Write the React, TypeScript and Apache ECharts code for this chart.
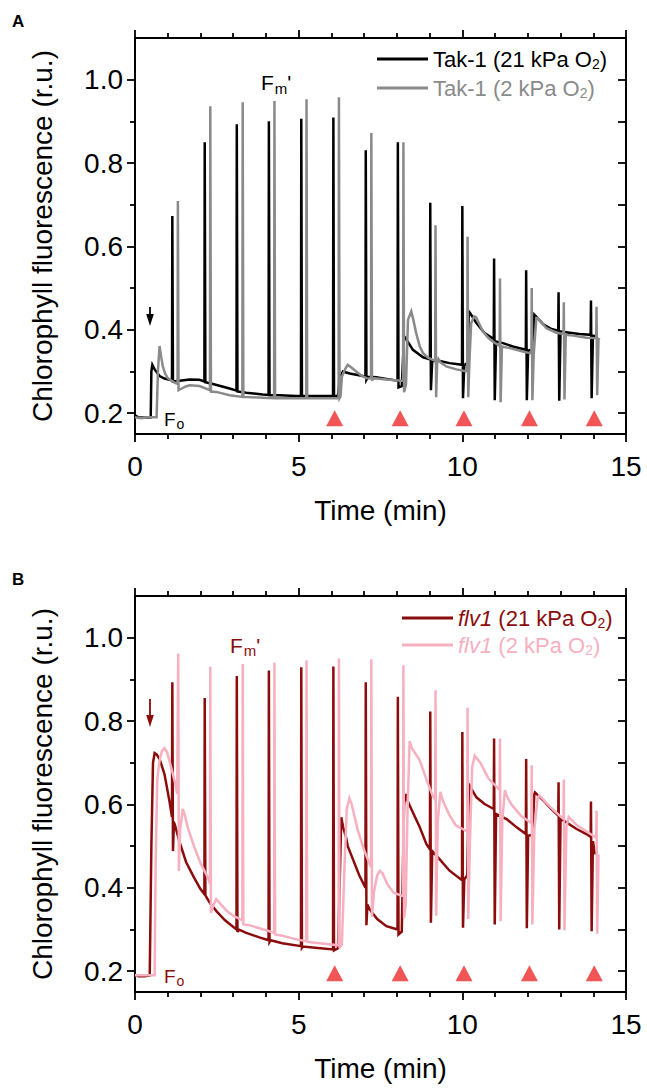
import React, { useEffect, useRef } from 'react';
import * as echarts from 'echarts';

const FONT = '"Liberation Sans", Arial, Helvetica, sans-serif';

// Axis ticks / labels
const xRange = [0, 15];
const xInterval = 5;
const yRange = [0.15, 1.1];
const yLabelValues = [0.2, 0.4, 0.6, 0.8, 1.0];
const yMinorValues = [0.3, 0.5, 0.7, 0.9];
const yAllValues = [0.2, 0.3, 0.4, 0.5, 0.6, 0.7, 0.8, 0.9, 1.0];

// Actinic light step markers (red triangles)
const triangleTimes = [6.1, 8.1, 10.05, 12.05, 14.03];
const triangleLevelA = 0.188;
const triangleLevelB = 0.195;

// Series names
const nameTakAir = 'Tak-1 (21 kPa O2)';
const nameTakLow = 'Tak-1 (2 kPa O2)';
const nameFlvAir = 'flv1 (21 kPa O2)';
const nameFlvLow = 'flv1 (2 kPa O2)';

// Panel A – Tak-1, 21 kPa O2 (time [min], fluorescence [r.u.])
const takAir: number[][] = [
  [0.0, 0.195], [0.1, 0.19], [0.3, 0.189], [0.48, 0.19],
  [0.5, 0.3], [0.53, 0.316], [0.6, 0.305], [0.75, 0.289], [0.9, 0.283], [1.05, 0.28], [1.13, 0.279],
  [1.14, 0.673], [1.16, 0.276],
  [1.36, 0.278], [1.67, 0.281], [1.97, 0.28], [2.12, 0.276],
  [2.13, 0.85], [2.15, 0.274],
  [2.38, 0.27], [2.89, 0.259], [3.1, 0.254],
  [3.11, 0.893], [3.13, 0.252],
  [3.4, 0.249], [3.9, 0.245], [4.08, 0.244],
  [4.09, 0.9], [4.11, 0.243],
  [4.42, 0.243], [4.93, 0.241], [5.07, 0.241],
  [5.08, 0.906], [5.1, 0.241],
  [5.94, 0.241], [6.05, 0.241],
  [6.06, 0.909], [6.08, 0.24],
  [6.2, 0.242], [6.26, 0.285], [6.35, 0.3], [6.56, 0.295], [6.96, 0.289], [7.04, 0.288],
  [7.05, 0.831], [7.07, 0.28], [7.12, 0.287],
  [7.37, 0.286], [7.68, 0.282], [8.02, 0.278],
  [8.03, 0.85], [8.05, 0.262], [8.15, 0.265], [8.22, 0.384], [8.25, 0.382],
  [8.49, 0.352], [8.8, 0.334], [9.01, 0.329],
  [9.02, 0.705], [9.04, 0.255], [9.08, 0.326],
  [9.31, 0.325], [9.61, 0.32], [9.99, 0.316],
  [10.0, 0.697], [10.02, 0.236], [10.06, 0.315], [10.15, 0.32], [10.2, 0.444], [10.24, 0.44],
  [10.43, 0.416], [10.68, 0.392], [10.96, 0.378],
  [10.97, 0.571], [10.99, 0.231], [11.03, 0.372],
  [11.24, 0.368], [11.54, 0.36], [11.94, 0.352],
  [11.95, 0.543], [11.97, 0.231], [12.01, 0.35], [12.15, 0.352], [12.2, 0.436], [12.25, 0.432],
  [12.46, 0.414], [12.72, 0.402], [12.93, 0.398],
  [12.94, 0.49], [12.96, 0.23], [13.0, 0.396],
  [13.28, 0.393], [13.58, 0.39], [13.92, 0.388],
  [13.93, 0.47], [13.95, 0.236], [13.99, 0.386],
  [14.14, 0.384],
];

// Panel A – Tak-1, 2 kPa O2
const takLow: number[][] = [
  [0.0, 0.19], [0.2, 0.188], [0.4, 0.19], [0.66, 0.19],
  [0.7, 0.3], [0.75, 0.361], [0.8, 0.335], [0.85, 0.312], [0.92, 0.295], [1.0, 0.284], [1.21, 0.273], [1.3, 0.27],
  [1.31, 0.709], [1.33, 0.255], [1.4, 0.258],
  [1.55, 0.264], [1.67, 0.267], [1.97, 0.265], [2.29, 0.255],
  [2.3, 0.936], [2.32, 0.252],
  [2.48, 0.251], [2.89, 0.243], [3.28, 0.239],
  [3.29, 0.946], [3.31, 0.239],
  [3.9, 0.237], [4.25, 0.236],
  [4.26, 0.949], [4.28, 0.236],
  [4.93, 0.236], [5.23, 0.236],
  [5.24, 0.953], [5.26, 0.236],
  [6.15, 0.236], [6.22, 0.236],
  [6.23, 0.958], [6.25, 0.236], [6.28, 0.24],
  [6.32, 0.287], [6.42, 0.306], [6.5, 0.316], [6.6, 0.31], [6.76, 0.3], [6.92, 0.29], [7.07, 0.284], [7.21, 0.283],
  [7.22, 0.872], [7.24, 0.278], [7.28, 0.284],
  [7.68, 0.281], [8.13, 0.278], [8.19, 0.277],
  [8.2, 0.85], [8.22, 0.25], [8.28, 0.27],
  [8.34, 0.424], [8.44, 0.444], [8.5, 0.425], [8.59, 0.392], [8.7, 0.36], [8.8, 0.344], [8.95, 0.333], [9.1, 0.328], [9.17, 0.326],
  [9.18, 0.651], [9.2, 0.238], [9.23, 0.32], [9.27, 0.33], [9.33, 0.322],
  [9.51, 0.312], [9.82, 0.305], [10.07, 0.301], [10.15, 0.3],
  [10.16, 0.623], [10.18, 0.238], [10.22, 0.33],
  [10.27, 0.416], [10.36, 0.432], [10.42, 0.43], [10.63, 0.396], [10.8, 0.38], [10.93, 0.372], [11.09, 0.364], [11.14, 0.362],
  [11.15, 0.523], [11.17, 0.226], [11.21, 0.36],
  [11.45, 0.356], [11.85, 0.348], [12.06, 0.344], [12.11, 0.343],
  [12.12, 0.5], [12.14, 0.231], [12.18, 0.34],
  [12.26, 0.428], [12.3, 0.428], [12.57, 0.404], [12.87, 0.393], [13.09, 0.39],
  [13.1, 0.466], [13.12, 0.233], [13.16, 0.388],
  [13.38, 0.386], [13.79, 0.381], [14.04, 0.38], [14.09, 0.379],
  [14.1, 0.455], [14.12, 0.243], [14.16, 0.378],
  [14.2, 0.376],
];

// Panel B – flv1, 21 kPa O2
const flvAir: number[][] = [
  [0.0, 0.192], [0.1, 0.188], [0.3, 0.188], [0.45, 0.19],
  [0.5, 0.5], [0.55, 0.7], [0.6, 0.723], [0.66, 0.72], [0.75, 0.709], [0.9, 0.673], [1.05, 0.609], [1.13, 0.57],
  [1.14, 0.893], [1.16, 0.488], [1.19, 0.556], [1.21, 0.553],
  [1.36, 0.51], [1.56, 0.462], [1.8, 0.425], [2.0, 0.397], [2.12, 0.385],
  [2.13, 0.855], [2.15, 0.382],
  [2.3, 0.362], [2.5, 0.343], [2.75, 0.322], [3.1, 0.3],
  [3.11, 0.908], [3.13, 0.294], [3.16, 0.3],
  [3.4, 0.292], [3.8, 0.281], [4.08, 0.274],
  [4.09, 0.921], [4.11, 0.27], [4.14, 0.274],
  [4.5, 0.267], [5.07, 0.26],
  [5.08, 0.929], [5.1, 0.256], [5.13, 0.259],
  [5.5, 0.256], [6.05, 0.252],
  [6.06, 0.931], [6.08, 0.25],
  [6.2, 0.255], [6.25, 0.4], [6.3, 0.569], [6.36, 0.545], [6.45, 0.52], [6.5, 0.5], [6.65, 0.47], [6.85, 0.43], [7.04, 0.4],
  [7.05, 0.893], [7.07, 0.31], [7.1, 0.36],
  [7.17, 0.348], [7.4, 0.325], [7.68, 0.308], [8.02, 0.3],
  [8.03, 0.858], [8.05, 0.288], [8.15, 0.295],
  [8.22, 0.6], [8.27, 0.625], [8.32, 0.61], [8.44, 0.589], [8.7, 0.545], [8.9, 0.505], [9.01, 0.492],
  [9.02, 0.823], [9.04, 0.316], [9.08, 0.488],
  [9.31, 0.468], [9.61, 0.441], [9.99, 0.418],
  [10.0, 0.774], [10.02, 0.304], [10.06, 0.42], [10.15, 0.43],
  [10.2, 0.64], [10.22, 0.645], [10.43, 0.617], [10.68, 0.601], [10.96, 0.589],
  [10.97, 0.758], [10.99, 0.312], [11.03, 0.577],
  [11.35, 0.565], [11.66, 0.545], [11.94, 0.529],
  [11.95, 0.709], [11.97, 0.303], [12.01, 0.525], [12.14, 0.527],
  [12.2, 0.625], [12.22, 0.629], [12.47, 0.61], [12.72, 0.589], [12.93, 0.573],
  [12.94, 0.653], [12.96, 0.3], [13.0, 0.565],
  [13.18, 0.557], [13.49, 0.541], [13.79, 0.529], [13.92, 0.522],
  [13.93, 0.607], [13.95, 0.296], [13.99, 0.512],
  [14.05, 0.48],
];

// Panel B – flv1, 2 kPa O2
const flvLow: number[][] = [
  [0.0, 0.19], [0.3, 0.19], [0.6, 0.19],
  [0.63, 0.45], [0.68, 0.66], [0.75, 0.705], [0.82, 0.728], [0.9, 0.735], [0.98, 0.725], [1.05, 0.705], [1.21, 0.657], [1.29, 0.625],
  [1.32, 0.962], [1.34, 0.44], [1.38, 0.54], [1.46, 0.589], [1.52, 0.575], [1.61, 0.545], [1.82, 0.496], [2.02, 0.456], [2.23, 0.424], [2.29, 0.41],
  [2.3, 0.93], [2.32, 0.34], [2.38, 0.355], [2.48, 0.373], [2.6, 0.362], [2.8, 0.345], [3.0, 0.333], [3.28, 0.322],
  [3.29, 0.937], [3.31, 0.312],
  [3.5, 0.31], [4.0, 0.298], [4.25, 0.292],
  [4.26, 0.94], [4.28, 0.288],
  [4.5, 0.285], [5.0, 0.275], [5.23, 0.272],
  [5.24, 0.946], [5.26, 0.27],
  [5.5, 0.268], [6.0, 0.264], [6.22, 0.262],
  [6.23, 0.95], [6.25, 0.255], [6.32, 0.265],
  [6.4, 0.45], [6.47, 0.59], [6.55, 0.615], [6.62, 0.6], [6.8, 0.54], [7.0, 0.49], [7.21, 0.45],
  [7.22, 0.948], [7.24, 0.33], [7.3, 0.39], [7.4, 0.43], [7.48, 0.441], [7.56, 0.435], [7.7, 0.41], [7.9, 0.388], [8.19, 0.38],
  [8.2, 0.934], [8.22, 0.328], [8.27, 0.36],
  [8.33, 0.6], [8.39, 0.752], [8.46, 0.735], [8.7, 0.706], [8.9, 0.66], [9.1, 0.62], [9.17, 0.612],
  [9.18, 0.874], [9.2, 0.333], [9.25, 0.56], [9.33, 0.63], [9.4, 0.61], [9.6, 0.575], [9.8, 0.55], [10.15, 0.535],
  [10.16, 0.832], [10.18, 0.325], [10.23, 0.5],
  [10.3, 0.69], [10.38, 0.717], [10.55, 0.7], [10.8, 0.662], [11.14, 0.635],
  [11.15, 0.758], [11.17, 0.32], [11.22, 0.56], [11.3, 0.634], [11.36, 0.62], [11.5, 0.6], [11.8, 0.572], [12.11, 0.555],
  [12.12, 0.694], [12.14, 0.312], [12.2, 0.54], [12.3, 0.615], [12.35, 0.622], [12.55, 0.605], [12.8, 0.585], [13.09, 0.565],
  [13.1, 0.66], [13.12, 0.298], [13.18, 0.545], [13.25, 0.57], [13.5, 0.55], [13.8, 0.535], [14.09, 0.52],
  [14.1, 0.585], [14.12, 0.29], [14.16, 0.48],
];

const C_BLACK = '#000000';
const C_GRAY = '#8a8a8a';
const C_WINE = '#8b0c0c';
const C_PINK = '#f7b0bf';
const C_RED = '#ee2a2a';

const GRID_TOPS = [38, 596];
const GRID_H = 396;
const GRID_LEFT = 135;
const GRID_RIGHT = 21;

function makeX(gridIndex: number, position: 'top' | 'bottom', labels: boolean) {
  return {
    gridIndex,
    type: 'value',
    position,
    min: xRange[0],
    max: xRange[1],
    interval: xInterval,
    axisLine: { show: true, onZero: false, lineStyle: { color: '#000', width: 2 } },
    axisTick: { show: true, inside: false, length: 8, lineStyle: { color: '#000', width: 1.8 } },
    minorTick: { show: true, splitNumber: 5, length: 5, lineStyle: { color: '#000', width: 1.8 } },
    splitLine: { show: false },
    minorSplitLine: { show: false },
    axisLabel: labels
      ? { show: true, fontSize: 28, color: '#000', fontFamily: FONT, margin: 18, showMinLabel: true, showMaxLabel: true }
      : { show: false },
    name: labels ? 'Time (min)' : '',
    nameLocation: 'middle',
    nameGap: 62,
    nameTextStyle: { fontSize: 28, color: '#000', fontFamily: FONT },
  };
}

function makeYAxes(gridIndex: number) {
  const base = {
    gridIndex,
    type: 'value',
    min: yRange[0],
    max: yRange[1],
    splitLine: { show: false },
  };
  return [
    {
      ...base,
      position: 'left',
      axisLine: { show: true, onZero: false, lineStyle: { color: '#000', width: 2 } },
      axisTick: { show: true, inside: false, length: 8, customValues: yLabelValues, lineStyle: { color: '#000', width: 1.8 } },
      axisLabel: {
        show: true,
        customValues: yLabelValues,
        formatter: (v: number) => v.toFixed(1),
        fontSize: 28,
        color: '#000',
        fontFamily: FONT,
        margin: 12,
      },
      name: 'Chlorophyll fluorescence (r.u.)',
      nameLocation: 'middle',
      nameGap: 79,
      nameTextStyle: { fontSize: 28, color: '#000', fontFamily: FONT },
    },
    {
      ...base,
      position: 'left',
      axisLine: { show: false },
      axisTick: { show: true, inside: false, length: 5, customValues: yMinorValues, lineStyle: { color: '#000', width: 1.8 } },
      axisLabel: { show: false },
    },
    {
      ...base,
      position: 'right',
      axisLine: { show: true, onZero: false, lineStyle: { color: '#000', width: 2 } },
      axisTick: { show: true, inside: true, length: 8, customValues: yAllValues, lineStyle: { color: '#000', width: 1.8 } },
      axisLabel: { show: false },
    },
  ];
}

function lineSeries(name: string, data: number[][], color: string, xi: number, yi: number) {
  return {
    type: 'line',
    name,
    data,
    xAxisIndex: xi,
    yAxisIndex: yi,
    symbol: 'none',
    showSymbol: false,
    lineStyle: { color, width: 2.5, join: 'miter' },
    itemStyle: { color },
    silent: true,
    z: 2,
  };
}

function triSeries(level: number, xi: number, yi: number) {
  return {
    type: 'scatter',
    name: 'light step',
    data: triangleTimes.map((t) => [t, level]),
    xAxisIndex: xi,
    yAxisIndex: yi,
    symbol: 'triangle',
    symbolSize: [17, 16],
    itemStyle: { color: C_RED },
    silent: true,
    z: 3,
  };
}

const legendRich = {
  k: { fontSize: 22, fontFamily: FONT, color: C_BLACK },
  ks: { fontSize: 14, fontFamily: FONT, color: C_BLACK, padding: [10, 0, 0, 0] },
  g: { fontSize: 22, fontFamily: FONT, color: C_GRAY },
  gs: { fontSize: 14, fontFamily: FONT, color: C_GRAY, padding: [10, 0, 0, 0] },
  w: { fontSize: 22, fontFamily: FONT, color: C_WINE },
  wi: { fontSize: 22, fontFamily: FONT, color: C_WINE, fontStyle: 'italic' },
  ws: { fontSize: 14, fontFamily: FONT, color: C_WINE, padding: [10, 0, 0, 0] },
  p: { fontSize: 22, fontFamily: FONT, color: C_PINK },
  pi: { fontSize: 22, fontFamily: FONT, color: C_PINK, fontStyle: 'italic' },
  ps: { fontSize: 14, fontFamily: FONT, color: C_PINK, padding: [10, 0, 0, 0] },
};

function legendFormatter(name: string) {
  if (name === nameTakAir) return '{k|Tak-1 (21 kPa O}{ks|2}{k|)}';
  if (name === nameTakLow) return '{g|Tak-1 (2 kPa O}{gs|2}{g|)}';
  if (name === nameFlvAir) return '{wi|flv1}{w| (21 kPa O}{ws|2}{w|)}';
  return '{pi|flv1}{p| (2 kPa O}{ps|2}{p|)}';
}

function richText(x: number, y: number, text: string, rich: any) {
  return {
    type: 'text',
    x,
    y,
    silent: true,
    style: { text, rich, fontFamily: FONT, verticalAlign: 'middle', align: 'left' },
  };
}

function arrow(x: number, yTop: number, yTip: number, color: string) {
  return [
    { type: 'line', silent: true, shape: { x1: x, y1: yTop, x2: x, y2: yTip - 8 }, style: { stroke: color, lineWidth: 1.8 } },
    {
      type: 'polygon',
      silent: true,
      shape: { points: [[x - 3.8, yTip - 12], [x + 3.8, yTip - 12], [x, yTip]] },
      style: { fill: color },
    },
  ];
}

function fmRich(color: string) {
  return {
    f: { fontSize: 21, fontFamily: FONT, fill: color },
    s: { fontSize: 15, fontFamily: FONT, fill: color, padding: [11, 0, 0, 1] },
  };
}

function buildOption() {
  return {
    animation: false,
    backgroundColor: '#ffffff',
    textStyle: { fontFamily: FONT },
    grid: GRID_TOPS.map((top) => ({ left: GRID_LEFT, right: GRID_RIGHT, top, height: GRID_H, containLabel: false })),
    xAxis: [makeX(0, 'bottom', true), makeX(0, 'top', false), makeX(1, 'bottom', true), makeX(1, 'top', false)],
    yAxis: [...makeYAxes(0), ...makeYAxes(1)],
    legend: [
      {
        data: [nameTakAir, nameTakLow],
        orient: 'vertical',
        left: 377,
        top: 48,
        padding: 0,
        itemWidth: 51,
        itemHeight: 3,
        itemGap: 6,
        icon: 'rect',
        selectedMode: false,
        formatter: legendFormatter,
        textStyle: { fontFamily: FONT, fontSize: 22, rich: legendRich },
      },
      {
        data: [nameFlvAir, nameFlvLow],
        orient: 'vertical',
        left: 402,
        top: 607,
        padding: 0,
        itemWidth: 51,
        itemHeight: 3,
        itemGap: 4,
        icon: 'rect',
        selectedMode: false,
        formatter: legendFormatter,
        textStyle: { fontFamily: FONT, fontSize: 22, rich: legendRich },
      },
    ],
    series: [
      lineSeries(nameTakAir, takAir, C_BLACK, 0, 0),
      lineSeries(nameTakLow, takLow, C_GRAY, 0, 0),
      triSeries(triangleLevelA, 0, 0),
      lineSeries(nameFlvAir, flvAir, C_WINE, 2, 3),
      lineSeries(nameFlvLow, flvLow, C_PINK, 2, 3),
      triSeries(triangleLevelB, 2, 3),
    ],
    graphic: [
      { type: 'text', x: 12, y: 21.7, silent: true, style: { text: 'A', fontSize: 17, fontWeight: 'bold', fontFamily: FONT, fill: '#000', verticalAlign: 'middle' } },
      { type: 'text', x: 12, y: 579.6, silent: true, style: { text: 'B', fontSize: 17, fontWeight: 'bold', fontFamily: FONT, fill: '#000', verticalAlign: 'middle' } },
      richText(261, 82.5, "{f|F}{s|m}{f|'}", fmRich('#000')),
      richText(230, 645, "{f|F}{s|m}{f|'}", fmRich(C_WINE)),
      richText(164, 419.5, '{f|F}{s|o}', {
        f: { fontSize: 19, fontFamily: FONT, fill: '#000' },
        s: { fontSize: 14, fontFamily: FONT, fill: '#000', padding: [9, 0, 0, 1] },
      }),
      richText(164, 976, '{f|F}{s|o}', {
        f: { fontSize: 19, fontFamily: FONT, fill: C_WINE },
        s: { fontSize: 14, fontFamily: FONT, fill: C_WINE, padding: [9, 0, 0, 1] },
      }),
      ...arrow(150, 307, 326, '#000'),
      ...arrow(150, 699, 727, C_WINE),
    ],
  };
}

export default function App() {
  const ref = useRef<HTMLDivElement>(null);
  useEffect(() => {
    if (!ref.current) return;
    const chart = echarts.init(ref.current, null, { renderer: 'svg' });
    chart.setOption(buildOption() as any);
    return () => chart.dispose();
  }, []);
  return (
    <div
      ref={ref}
      style={{ position: 'fixed', left: 0, top: 0, width: 647, height: 1088, background: '#fff' }}
    />
  );
}
